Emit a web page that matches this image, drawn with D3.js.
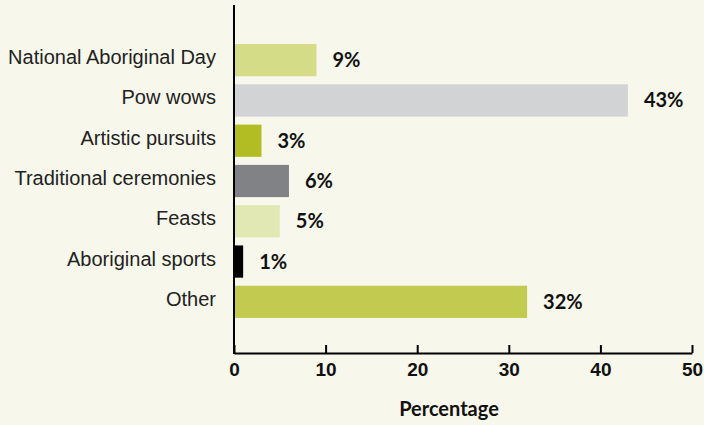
<!DOCTYPE html>
<html>
<head>
<meta charset="utf-8">
<script src="https://cdn.jsdelivr.net/npm/d3@7"></script>
<style>
  html, body { margin: 0; padding: 0; background: #f7f7eb; }
  svg { display: block; font-family: Lato, "Open Sans", sans-serif; }
  .axis path, .axis line { stroke: #000; stroke-width: 2px; }
  .x-axis text { font-size: 19px; font-weight: bold; fill: #111; }
  .y-axis text { font-size: 20px; fill: #222; }
</style>
</head>
<body>
<svg id="chart"></svg>
<script>
// --- DATA ---
const categories = ["National Aboriginal Day", "Pow wows", "Artistic pursuits",
  "Traditional ceremonies", "Feasts", "Aboriginal sports", "Other"];
const percents = [9, 43, 3, 6, 5, 1, 32];
const barColors = ["#d5dc87", "#d1d3d4", "#b1bd22", "#808285", "#e2e8b4", "#000000", "#c2cb50"];
const xTicks = [0, 10, 20, 30, 40, 50];

// --- LAYOUT ---
const W = 704, H = 425;
const X0 = 234, X1 = 692;
const AXIS_Y = 353;

const svg = d3.select("#chart").attr("width", W).attr("height", H);

const x = d3.scaleLinear().domain([0, 50]).range([X0, X1]);
const y = d3.scaleBand().domain(categories).range([36, 326]).padding(0.2);

const rows = categories.map((c, i) => ({ cat: c, val: percents[i], color: barColors[i] }));

// bars
svg.append("g").selectAll("rect").data(rows).join("rect")
  .attr("x", x(0))
  .attr("y", d => y(d.cat))
  .attr("width", d => x(d.val) - x(0))
  .attr("height", y.bandwidth())
  .attr("fill", d => d.color);

// value labels
svg.append("g").selectAll("text").data(rows).join("text")
  .attr("x", d => x(d.val) + 16)
  .attr("y", d => y(d.cat) + y.bandwidth() / 2)
  .attr("dy", "0.35em")
  .attr("font-size", 20)
  .attr("font-weight", "bold")
  .attr("fill", "#111")
  .text(d => d.val + "%");

// x axis
svg.append("g")
  .attr("class", "axis x-axis")
  .attr("transform", `translate(0,${AXIS_Y})`)
  .call(d3.axisBottom(x).tickValues(xTicks).tickSize(-8).tickSizeOuter(0))
  .call(g => g.selectAll(".tick text").attr("y", 10));

// y axis (labels only) + full vertical line
svg.append("g")
  .attr("class", "axis y-axis")
  .attr("transform", `translate(${X0},0)`)
  .call(d3.axisLeft(y).tickSize(0).tickPadding(18))
  .call(g => g.select(".domain").remove())
  .call(g => g.selectAll(".tick text").attr("dy", "0.2em"));

svg.append("line")
  .attr("x1", X0).attr("x2", X0)
  .attr("y1", 5).attr("y2", AXIS_Y + 1)
  .attr("stroke", "#000").attr("stroke-width", 2);

// axis title
svg.append("text")
  .attr("x", (X0 + X1) / 2 - 14)
  .attr("y", 416)
  .attr("text-anchor", "middle")
  .attr("font-size", 20)
  .attr("font-weight", "bold")
  .attr("fill", "#111")
  .text("Percentage");
</script>
</body>
</html>
